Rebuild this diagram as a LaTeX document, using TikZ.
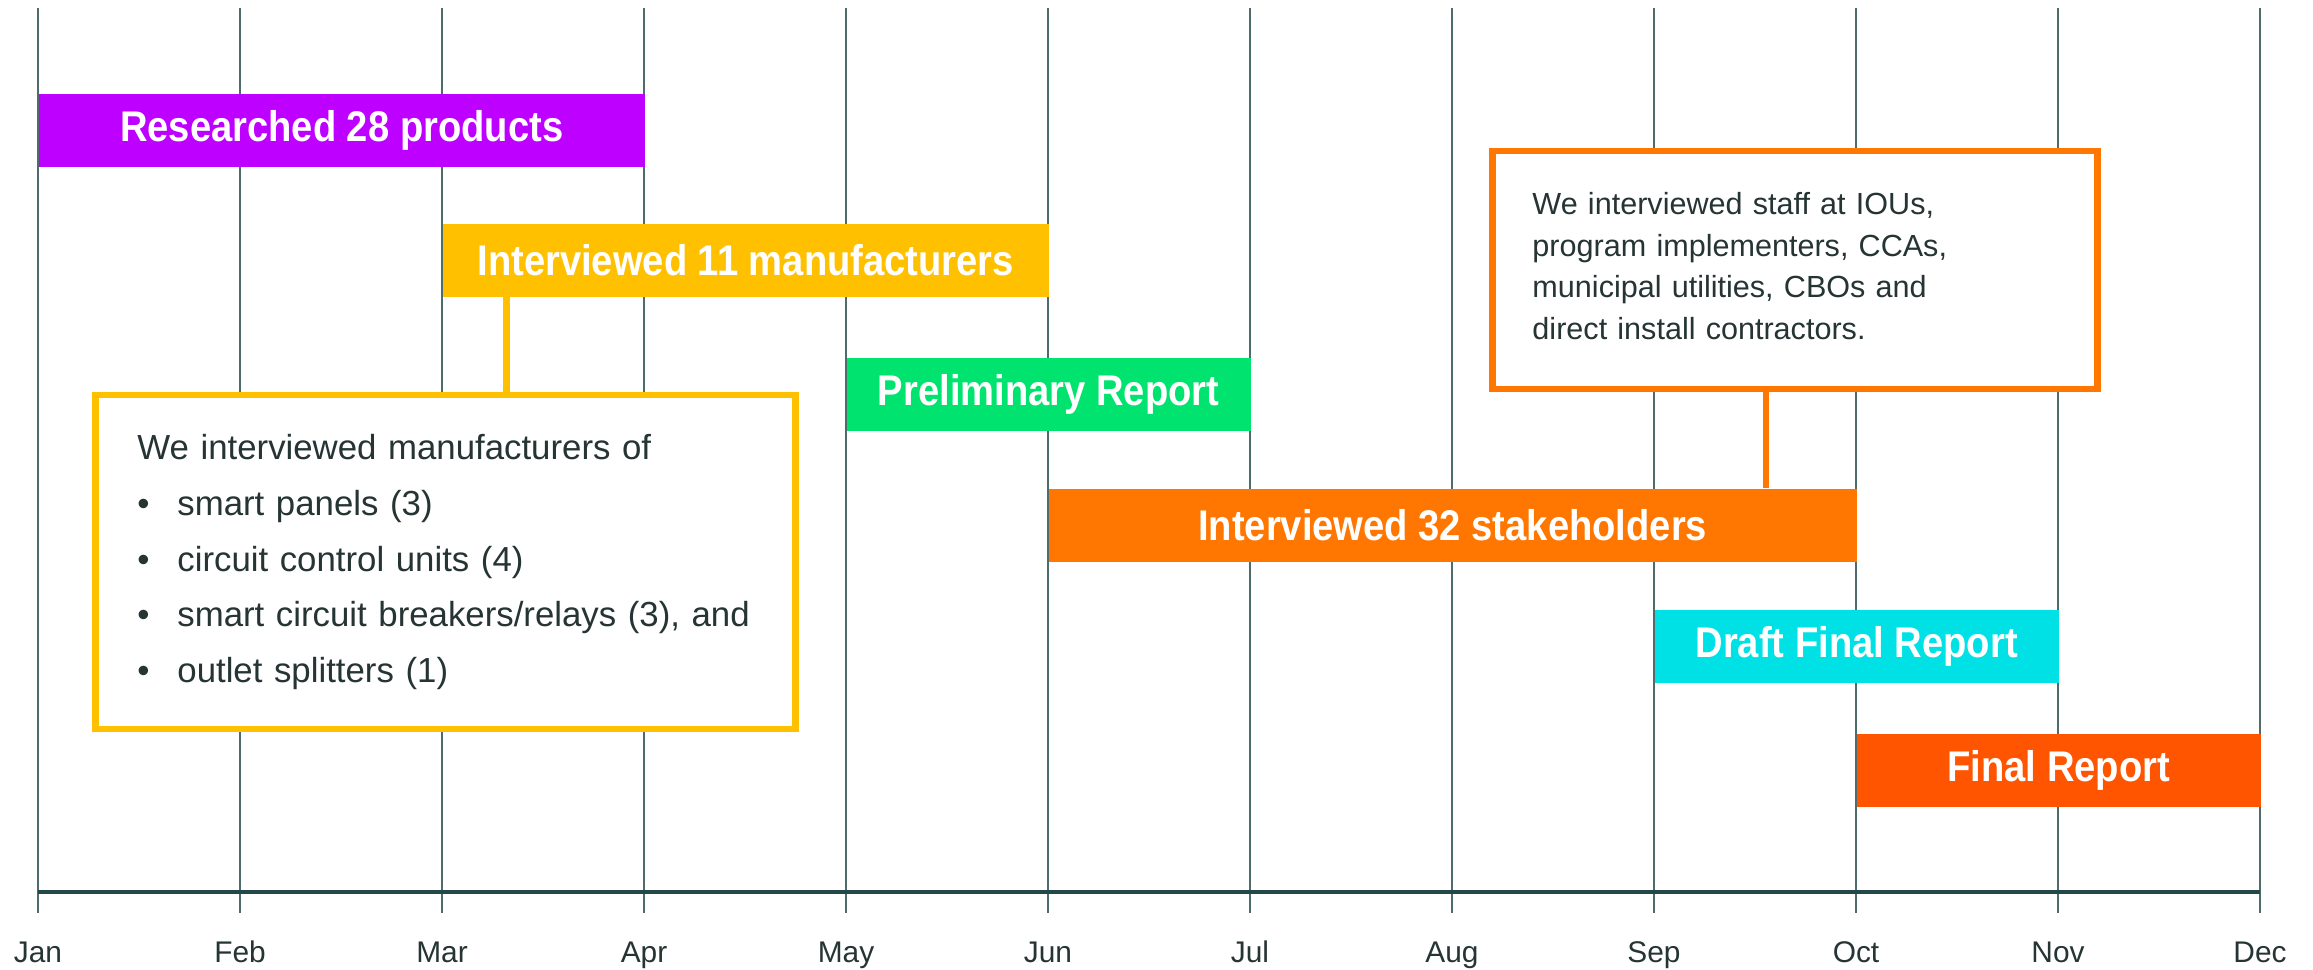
\documentclass[tikz,border=0pt]{standalone}
\usepackage{fontspec}
\setmainfont{Liberation Sans}
\newfontfamily\barfont{Liberation Sans}[FakeStretch=0.89]
\usepackage{xcolor}
\usepackage{tikz}

\definecolor{gridgray}{HTML}{4F6C6C}
\definecolor{axisgray}{HTML}{234848}
\definecolor{textgray}{HTML}{263434}
\definecolor{barviolet}{HTML}{BD00FF}
\definecolor{baryellow}{HTML}{FFC000}
\definecolor{bargreen}{HTML}{00E36F}
\definecolor{barorange}{HTML}{FF7600}
\definecolor{barcyan}{HTML}{00E1E6}
\definecolor{barred}{HTML}{FF5500}

\tikzset{
  gridline/.style={gridgray, line width=0.85pt},
  axisline/.style={axisgray, line width=1.1pt},
  monthlabel/.style={anchor=base, text=textgray, font=\fontsize{8.5}{10}\selectfont},
  bar/.style={rectangle, anchor=north west, inner sep=0pt, minimum height=0.73cm,
    text=white, font=\barfont\bfseries\fontsize{12.2}{14}\selectfont},
  span/.style={minimum width=#1*2.02cm},
  note/.style={rectangle, draw=#1, line width=1.9pt, fill=white, align=left,
    text=textgray, font=\fontsize{9.9}{15.9}\selectfont},
  link/.style={#1, line width=1.9pt},
}

\begin{document}
\begin{tikzpicture}[x=2.02cm, y=-1cm]
  \useasboundingbox (-0.1881,0) rectangle (11.2624,9.69);

  % Dessinez les lignes des mois
  \foreach \m in {0,1,...,11} {
    \draw[gridline] (\m,0.08) -- (\m,9.13);
  }

  % Dessinez l'axe du temps
  \draw[axisline] (0,8.92) -- (11,8.92);

  % Ajoutez les noms des mois
  \foreach \m/\mois in {0/Jan,1/Feb,2/Mar,3/Apr,4/May,5/Jun,6/Jul,7/Aug,8/Sep,9/Oct,10/Nov,11/Dec} {
    \node[monthlabel] (m\m) at (\m,9.62) {\mois};
  }

  % Dessinez les barres des etapes
  \node[bar, span=3, fill=barviolet] (products) at (0,0.93) {Researched 28 products};
  \node[bar, span=3, fill=baryellow] (manuf) at (2,2.23) {Interviewed 11 manufacturers};
  \node[bar, span=2, fill=bargreen] (prelim) at (4,3.57) {Preliminary Report};
  \node[bar, span=4, fill=barorange] (stake) at (5,4.88) {Interviewed 32 stakeholders};
  \node[bar, span=2, fill=barcyan] (draft) at (8,6.09) {Draft Final Report};
  \node[bar, span=2, fill=barred] (final) at (9,7.33) {Final Report};

  % Ajoutez les encadres de details
  \node[note=baryellow, text width=6.16cm, inner xsep=0.42cm, minimum height=3.34cm]
    (manufnote) at (2.017,5.62) {%
    We interviewed manufacturers of\\
    \makebox[0.40cm][l]{•}smart panels (3)\\
    \makebox[0.40cm][l]{•}circuit control units (4)\\
    \makebox[0.40cm][l]{•}smart circuit breakers/relays (3), and\\
    \makebox[0.40cm][l]{•}outlet splitters (1)};

  \node[note=barorange, text width=5.25cm, inner xsep=0.40cm, minimum height=2.38cm,
    font=\fontsize{8.7}{11.9}\selectfont]
    (stakenote) at (8.698,2.70) {%
    We interviewed staff at IOUs,\\
    program implementers, CCAs,\\
    municipal utilities, CBOs and\\
    direct install contractors.\rule[-0.08cm]{0pt}{0pt}};

  % Reliez les encadres aux barres
  \coordinate (k1) at (2.32,0);
  \coordinate (k2) at (8.554,0);
  \draw[link=baryellow] (manuf.south -| k1) -- (manufnote.north -| k1);
  \draw[link=barorange] (stakenote.south -| k2) -- (stake.north -| k2);
\end{tikzpicture}
\end{document}
